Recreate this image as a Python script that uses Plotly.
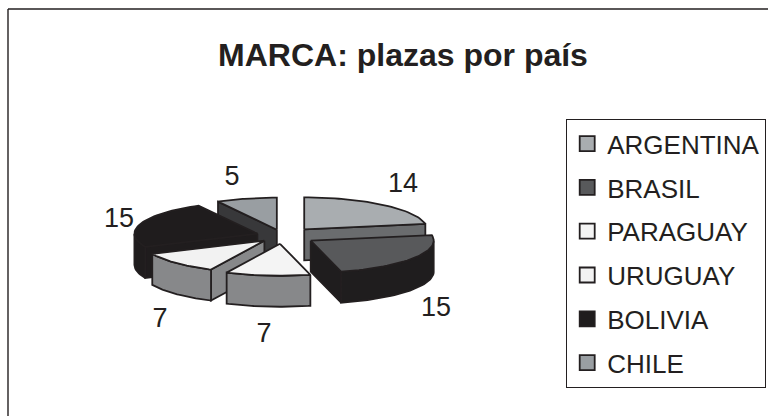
import numpy as np
import plotly.graph_objects as go

countries = ['ARGENTINA', 'BRASIL', 'PARAGUAY', 'URUGUAY', 'BOLIVIA', 'CHILE']
plazas = [14, 15, 7, 7, 15, 5]

top_colors = ['#a9adb0', '#58595b', '#f4f4f4', '#f2f2f2', '#1f1c1d', '#999ea2']
wall_colors = ['#6a6c6e', '#1f1d1e', '#87888a', '#87888a', '#1f1c1d', '#38383a']
draw_order = [5, 0, 4, 3, 1, 2]

label_x = [403, 436, 264, 160, 119, 232]
label_y = [185, 309, 335, 320, 220, 178]

# pie geometry, in page pixels
CX, CY = 283, 236
RX, RY = 123, 32
HEIGHT = 31
explode = [33, 33, 30, 26, 27, 25]
INK = '#231f20'


def face(xs, ys, color):
    return go.Scatter(x=xs, y=ys, mode='lines', fill='toself', fillcolor=color,
                      line=dict(color=INK, width=1.8), hoverinfo='skip', showlegend=False)


total = sum(plazas)
ends = np.cumsum(plazas) / total * 360
starts = ends - np.array(plazas) / total * 360

fig = go.Figure()

for i in draw_order:
    a0, a1 = np.radians(starts[i]), np.radians(ends[i])
    mid = (a0 + a1) / 2
    ox = CX + explode[i] * np.sin(mid)
    oy = CY - explode[i] * RY / RX * np.cos(mid)
    t = np.linspace(a0, a1, 40)
    rim_x = ox + RX * np.sin(t)
    rim_y = oy - RY * np.cos(t)

    # cut faces that look towards the viewer
    if np.sin(a0) < -1e-6:
        fig.add_trace(face([ox, rim_x[0], rim_x[0], ox, ox],
                           [oy, rim_y[0], rim_y[0] + HEIGHT, oy + HEIGHT, oy], wall_colors[i]))
    if np.sin(a1) > 1e-6:
        fig.add_trace(face([ox, rim_x[-1], rim_x[-1], ox, ox],
                           [oy, rim_y[-1], rim_y[-1] + HEIGHT, oy + HEIGHT, oy], wall_colors[i]))

    # outer wall, only the front half of the ellipse
    front = np.cos(t) < 0
    if front.any():
        fx, fy = rim_x[front], rim_y[front]
        fig.add_trace(face(list(fx) + list(fx[::-1]) + [fx[0]],
                           list(fy) + list(fy[::-1] + HEIGHT) + [fy[0]], wall_colors[i]))

    fig.add_trace(face([ox] + list(rim_x) + [ox], [oy] + list(rim_y) + [oy], top_colors[i]))

fig.add_trace(go.Scatter(x=label_x, y=label_y, mode='text', text=[str(p) for p in plazas],
                         textfont=dict(size=27, color=INK), hoverinfo='skip', showlegend=False))

for name, color in zip(countries, top_colors):
    fig.add_trace(go.Scatter(x=[None], y=[None], mode='markers', name=name, legendgroup=name,
                             marker=dict(symbol='square', size=15, color=color,
                                         line=dict(color=INK, width=1.8))))

fig.update_layout(
    width=768, height=416,
    margin=dict(l=0, r=0, t=0, b=0),
    paper_bgcolor='white', plot_bgcolor='white',
    font=dict(family='Liberation Sans, Arial, sans-serif', color=INK),
    title=dict(text='<b>MARCA: plazas por país</b>', font=dict(size=32, color=INK),
               x=403 / 768, xanchor='center', y=1 - 55 / 416, yanchor='middle'),
    legend=dict(x=566 / 768, xanchor='left', y=1 - 119 / 416, yanchor='top',
                bordercolor=INK, borderwidth=1.2, bgcolor='white',
                font=dict(size=26, color=INK), tracegroupgap=7,
                itemclick=False, itemdoubleclick=False),
    xaxis=dict(range=[0, 768], visible=False, fixedrange=True),
    yaxis=dict(range=[416, 0], visible=False, fixedrange=True),
    shapes=[
        dict(type='line', xref='paper', yref='paper', x0=8 / 768, x1=1,
             y0=1 - 9 / 416, y1=1 - 9 / 416, line=dict(color=INK, width=1.4)),
        dict(type='line', xref='paper', yref='paper', x0=8 / 768, x1=8 / 768,
             y0=0, y1=1 - 9 / 416, line=dict(color=INK, width=1.4)),
    ],
)

fig.write_html('out.html', config={'displayModeBar': False},
               post_script="document.body.style.margin='0';document.body.style.overflow='hidden';")
